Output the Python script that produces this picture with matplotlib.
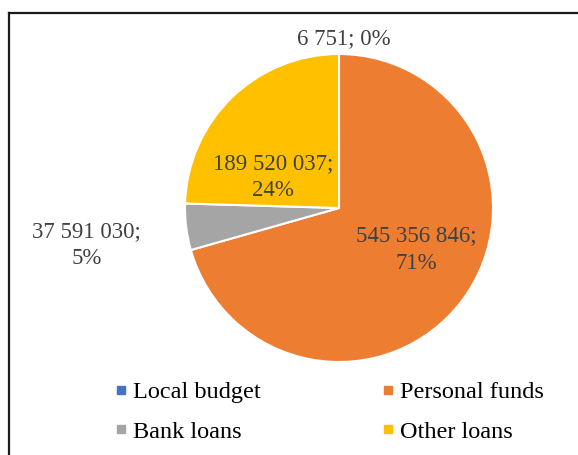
import matplotlib.pyplot as plt
from matplotlib.lines import Line2D

plt.rcParams['font.family'] = ['Liberation Serif', 'DejaVu Serif']

# funding sources
sources = ['Local budget', 'Personal funds', 'Bank loans', 'Other loans']
amounts = [6751, 545356846, 37591030, 189520037]
shares = [0, 71, 5, 24]
colors = ['#4472C4', '#ED7D31', '#A5A5A5', '#FFC000']

# where each value label sits (axes data units, pie radius = 1)
label_pos = [(0.03, 1.10), (0.50, -0.27), (-1.64, -0.24), (-0.43, 0.20)]

W, H = 578, 455
fig = plt.figure(figsize=(W / 100, H / 100), dpi=100)

# pie axes: centre at (339, 208) px, radius 154 px
cx, cy, r = 339, 208, 154
ax = fig.add_axes([(cx - r) / W, (H - cy - r) / H, 2 * r / W, 2 * r / H])
ax.pie(amounts, colors=colors, startangle=90, counterclock=False,
       radius=1, wedgeprops=dict(edgecolor='white', linewidth=1.5))
ax.set_xlim(-1, 1)
ax.set_ylim(-1, 1)
ax.set_aspect('equal')
ax.axis('off')

def fmt(v):
    return f'{v:,}'.replace(',', ' ')

for i in range(len(amounts)):
    x, y = label_pos[i]
    if i == 0:
        txt = f'{fmt(amounts[i])}; {shares[i]}%'
    else:
        txt = f'{fmt(amounts[i])};\n{shares[i]}%'
    ax.text(x, y, txt, ha='center', va='center', fontsize=16.5,
            color='#404040', linespacing=1.4, clip_on=False)

handles = [Line2D([], [], marker='s', linestyle='', markersize=5.5,
                  markerfacecolor=c, markeredgecolor=c) for c in colors]
# legend fills column-wise, so reorder to read across rows
order = [0, 2, 1, 3]
fig.legend([handles[i] for i in order], [sources[i] for i in order],
           ncol=2, loc='center', bbox_to_anchor=(330 / W, 1 - 412 / H),
           frameon=False, fontsize=17.5, handlelength=0.4, handletextpad=0.3,
           columnspacing=5.05, labelspacing=0.72)

# chart frame (top and left edges visible)
fig.add_artist(Line2D([9 / W, 1], [1 - 12.5 / H, 1 - 12.5 / H],
                      transform=fig.transFigure, color='#1a1a1a', linewidth=1.6))
fig.add_artist(Line2D([9 / W, 9 / W], [0, 1 - 12.5 / H],
                      transform=fig.transFigure, color='#1a1a1a', linewidth=1.6))

fig.savefig('out.png', dpi=100)
